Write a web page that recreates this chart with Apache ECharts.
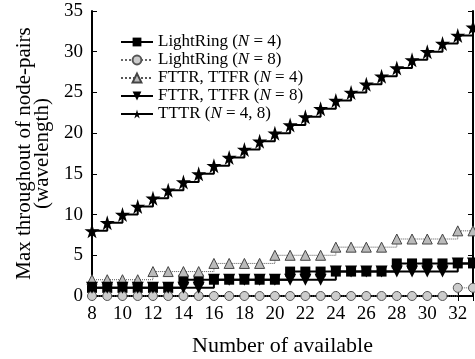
<!DOCTYPE html>
<html><head><meta charset="utf-8">
<script src="https://cdn.jsdelivr.net/npm/echarts@6/dist/echarts.min.js"></script>
<style>html,body{margin:0;padding:0;background:#fff}#c{width:475px;height:359px}</style>
</head><body><div id="c"></div>
<script>
const xValues = [8,9,10,11,12,13,14,15,16,17,18,19,20,21,22,23,24,25,26,27,28,29,30,31,32,33];
const lightRing4 = [1,1,1,1,1,1,2,2,2,2,2,2,2,3,3,3,3,3,3,3,4,4,4,4,4,4];
const lightRing8 = [0,0,0,0,0,0,0,0,0,0,0,0,0,0,0,0,0,0,0,0,0,0,0,0,1,1];
const fttr4 = [2,2,2,2,3,3,3,3,4,4,4,4,5,5,5,5,6,6,6,6,7,7,7,7,8,8];
const fttr8 = [1,1,1,1,1,1,1,1,2,2,2,2,2,2,2,2,3,3,3,3,3,3,3,3,4,4];
const tttr = [8,9,10,11,12,13,14,15,16,17,18,19,20,21,22,23,24,25,26,27,28,29,30,31,32,33];
const xTickStep = 2;
const yTickStep = 5;
const names = ['LightRing (N = 4)','LightRing (N = 8)','FTTR, TTFR (N = 4)','FTTR, TTFR (N = 8)','TTTR (N = 4, 8)'];

const FONT = 'Liberation Serif';
const star = 'path://M50,0 L61,35 L98,35 L68,57 L79,91 L50,70 L21,91 L32,57 L2,35 L39,35 Z';
const pair = arr => xValues.map((x,i)=>[x,arr[i]]);

function mk(name, data, opt){
  return Object.assign({
    name, type:'line', step:'end', data: pair(data), clip:false,
    showAllSymbol:true, animation:false, z: 3
  }, opt);
}
const series = [
  mk(names[0], lightRing4, {symbol:'rect', symbolSize:10, itemStyle:{color:'#000'}, lineStyle:{color:'#000', width:2}}),
  mk(names[1], lightRing8, {symbol:'circle', symbolSize:9, itemStyle:{color:'#ccc', borderColor:'#555', borderWidth:1}, lineStyle:{color:'#666', width:1, type:'dotted'}}),
  mk(names[2], fttr4, {symbol:'triangle', symbolSize:10, itemStyle:{color:'#bbb', borderColor:'#444', borderWidth:1}, lineStyle:{color:'#555', width:1, type:'dotted'}}),
  mk(names[3], fttr8, {symbol:'triangle', symbolRotate:180, symbolSize:12, itemStyle:{color:'#000'}, lineStyle:{color:'#000', width:2}}),
  mk(names[4], tttr, {symbol:star, symbolSize:15, itemStyle:{color:'#000'}, lineStyle:{color:'#000', width:2}})
];

const chart = echarts.init(document.getElementById('c'), null, {renderer:'canvas'});
const axLine = {show:true, lineStyle:{color:'#000', width:2}};
const tick = {inside:true, length:5, lineStyle:{color:'#000', width:1}};
chart.setOption({
  animation:false,
  backgroundColor:'#fff',
  grid:{left:92, right:2, top:11, bottom:63, containLabel:false, outerBoundsMode:'none'},
  legend:{
    orient:'vertical', left:115, top:28, itemGap:0, itemWidth:32, itemHeight:11,
    data:names,
    formatter: n => {
      const m = n.match(/^(.*\()N(.*)$/);
      return '{a|'+m[1]+'}{i|N}{a|'+m[2]+'}';
    },
    textStyle:{fontFamily:FONT, fontSize:17, color:'#000', lineHeight:18,
      rich:{a:{fontFamily:FONT, fontSize:17, color:'#000', lineHeight:18}, i:{fontFamily:FONT, fontSize:17, fontStyle:'italic', color:'#000', lineHeight:18}}}
  },
  xAxis:[{
    type:'value', min:8, max:33, interval:xTickStep, position:'bottom',
    name:'Number of available', nameLocation:'middle', nameGap:39,
    nameTextStyle:{fontFamily:FONT, fontSize:22, color:'#000'},
    axisLine:axLine, axisTick:tick,
    axisLabel:{fontFamily:FONT, fontSize:19, color:'#000', margin:9, showMaxLabel:false},
    splitLine:{show:false}
  },{
    type:'value', min:8, max:33, interval:xTickStep, position:'top',
    axisLine:axLine, axisTick:tick,
    axisLabel:{show:false}, splitLine:{show:false}
  }],
  yAxis:[{
    type:'value', min:0, max:35, interval:yTickStep, position:'left',
    name:'Max throughout of node-pairs\n(wavelength)', nameLocation:'middle', nameGap:36, nameRotate:90,
    nameTextStyle:{fontFamily:FONT, fontSize:21, color:'#000', lineHeight:18},
    axisLine:axLine, axisTick:tick,
    axisLabel:{fontFamily:FONT, fontSize:19, color:'#000', margin:9},
    splitLine:{show:false}
  },{
    type:'value', min:0, max:35, interval:yTickStep, position:'right',
    axisLine:axLine, axisTick:tick,
    axisLabel:{show:false}, splitLine:{show:false}
  }],
  series
});
</script></body></html>
